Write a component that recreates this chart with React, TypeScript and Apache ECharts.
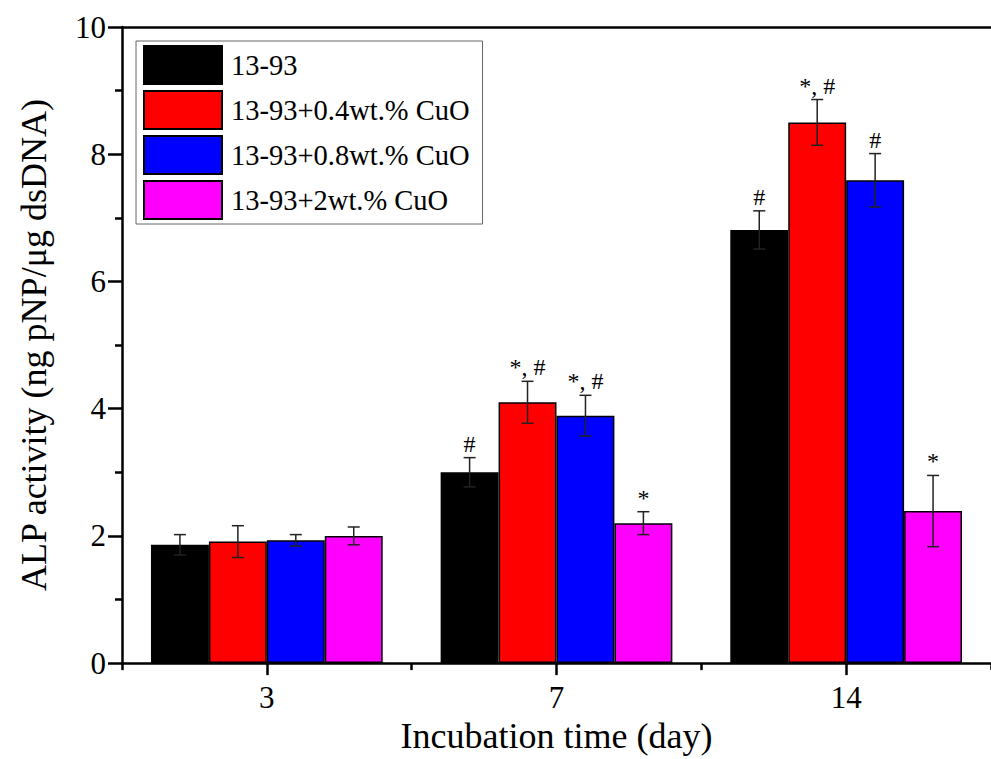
import React, { useEffect, useRef } from "react";
import * as echarts from "echarts";

const categories = ["3", "7", "14"];
const seriesNames = ["13-93", "13-93+0.4wt.% CuO", "13-93+0.8wt.% CuO", "13-93+2wt.% CuO"];
const colors = ["#000000", "#FF0000", "#0000FF", "#FF00FF"];
const values13_93 = [1.86, 3.0, 6.81];
const values04 = [1.91, 4.1, 8.5];
const values08 = [1.93, 3.89, 7.59];
const values2 = [2.0, 2.2, 2.39];
const errors13_93 = [0.16, 0.23, 0.3];
const errors04 = [0.25, 0.33, 0.36];
const errors08 = [0.09, 0.32, 0.42];
const errors2 = [0.14, 0.18, 0.56];
const marks13_93 = ["", "#", "#"];
const marks04 = ["", "*, #", "*, #"];
const marks08 = ["", "*, #", "#"];
const marks2 = ["", "*", "*"];
const yTicks = [0, 2, 4, 6, 8, 10];

const allValues = [values13_93, values04, values08, values2];
const allErrors = [errors13_93, errors04, errors08, errors2];
const allMarks = [marks13_93, marks04, marks08, marks2];

const FONT = "Liberation Serif";

export default function App() {
  const ref = useRef<HTMLDivElement>(null);
  useEffect(() => {
    if (!ref.current) return;
    const chart = echarts.init(ref.current, null, { renderer: "svg" });
    const n = seriesNames.length;
    const barSeries = seriesNames.map((name, s) => ({
      name,
      type: "bar",
      xAxisIndex: 0,
      yAxisIndex: 0,
      data: allValues[s],
      barGap: "0%",
      barCategoryGap: "20%",
      itemStyle: { color: colors[s], borderColor: "#000", borderWidth: 1.5 },
      z: 2,
    }));
    const errSeries = seriesNames.map((name, s) => ({
      name: name + " err",
      type: "custom",
      xAxisIndex: 0,
      yAxisIndex: 0,
      z: 5,
      data: allValues[s].map((v, i) => [i, v, allErrors[s][i], i]),
      renderItem: (params: any, api: any) => {
        const ci = api.value(0);
        const v = api.value(1);
        const e = api.value(2);
        const idx = api.value(3);
        const band = api.size([1, 0])[0];
        const bw = (band * 0.8) / n;
        const cx = api.coord([ci, v])[0] + (s - (n - 1) / 2) * bw;
        const yTop = api.coord([ci, v + e])[1];
        const yBot = api.coord([ci, v - e])[1];
        const cap = 6;
        const st = { stroke: "#222", lineWidth: 1.5 };
        const children: any[] = [
          { type: "line", shape: { x1: cx, y1: yTop, x2: cx, y2: yBot }, style: st },
          { type: "line", shape: { x1: cx - cap, y1: yTop, x2: cx + cap, y2: yTop }, style: st },
          { type: "line", shape: { x1: cx - cap, y1: yBot, x2: cx + cap, y2: yBot }, style: st },
        ];
        const m = allMarks[s][idx];
        if (m) {
          children.push({
            type: "text",
            x: cx,
            y: yTop - 2,
            style: {
              text: m,
              fill: "#000",
              fontFamily: FONT,
              fontSize: 24,
              align: "center",
              verticalAlign: "bottom",
            },
          });
        }
        return { type: "group", children };
      },
    }));
    chart.setOption({
      animation: false,
      backgroundColor: "#fff",
      textStyle: { fontFamily: FONT },
      legend: {
        data: seriesNames,
        orient: "vertical",
        left: 136,
        top: 41,
        padding: [4, 13, 4, 7],
        itemWidth: 78,
        itemHeight: 38,
        itemGap: 5,
        icon: "rect",
        backgroundColor: "#fff",
        borderColor: "#666",
        borderWidth: 1,
        textStyle: { fontFamily: FONT, fontSize: 28.5, color: "#000", padding: [0, 0, 0, 4] },
      },
      grid: { left: 122, right: -10, top: 27, bottom: 86, containLabel: false },
      xAxis: [
        {
          type: "category",
          data: categories,
          position: "bottom",
          axisLine: { show: true, lineStyle: { color: "#000", width: 2.5 } },
          axisTick: { show: true, alignWithLabel: true, length: 12, lineStyle: { color: "#000", width: 2.5 } },
          axisLabel: { fontFamily: FONT, fontSize: 31, color: "#000", margin: 19 },
          name: "Incubation time (day)",
          nameLocation: "middle",
          nameGap: 52,
          nameTextStyle: { fontFamily: FONT, fontSize: 36, color: "#000" },
        },
        {
          type: "category",
          data: categories,
          position: "bottom",
          axisLine: { show: false },
          axisTick: { show: true, alignWithLabel: false, length: 7, lineStyle: { color: "#000", width: 2.5 } },
          axisLabel: { show: false },
        },
        {
          type: "category",
          data: categories,
          position: "top",
          axisLine: { show: true, lineStyle: { color: "#000", width: 2.5 } },
          axisTick: { show: false },
          axisLabel: { show: false },
        },
      ],
      yAxis: {
        type: "value",
        min: yTicks[0],
        max: yTicks[yTicks.length - 1],
        interval: 2,
        axisLine: { show: true, lineStyle: { color: "#000", width: 2.5 } },
        axisTick: { show: true, inside: false, length: 14, lineStyle: { color: "#000", width: 2.5 } },
        minorTick: { show: true, splitNumber: 2, length: 7, lineStyle: { color: "#000", width: 2.5 } },
        splitLine: { show: false },
        axisLabel: { fontFamily: FONT, fontSize: 31, color: "#000", margin: 16 },
        name: "ALP activity (ng pNP/\u03bcg dsDNA)",
        nameLocation: "middle",
        nameGap: 70,
        nameTextStyle: { fontFamily: FONT, fontSize: 36, color: "#000" },
      },
      series: [...barSeries, ...errSeries],
    });
    return () => chart.dispose();
  }, []);
  return (
    <div
      ref={ref}
      style={{ position: "absolute", left: 0, top: 0, width: 991, height: 759 }}
    />
  );
}
